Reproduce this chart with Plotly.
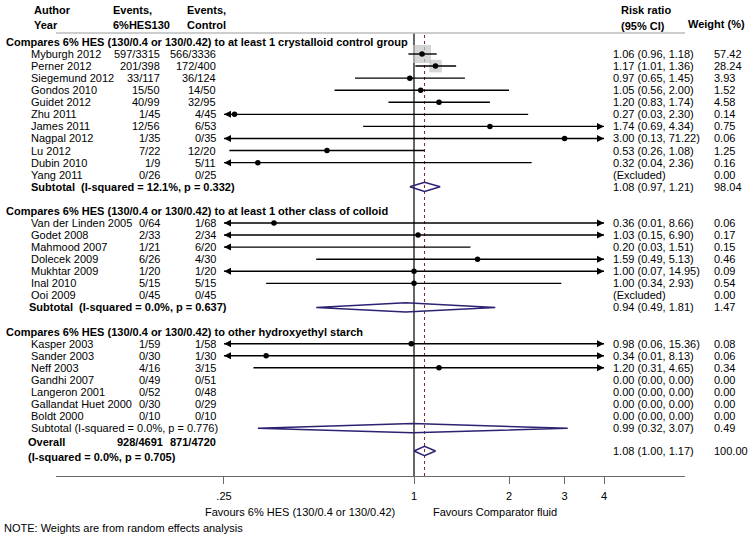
import math
import plotly.graph_objects as go

# ---------------- Data ----------------
group_titles = [
    "Compares 6% HES (130/0.4 or 130/0.42) to at least 1 crystalloid control group",
    "Compares 6% HES (130/0.4 or 130/0.42) to at least 1 other class of colloid",
    "Compares 6% HES (130/0.4 or 130/0.42) to other hydroxyethyl starch",
]

g1_names = ["Myburgh 2012", "Perner 2012", "Siegemund 2012", "Gondos 2010", "Guidet 2012",
            "Zhu 2011", "James 2011", "Nagpal 2012", "Lu 2012", "Dubin 2010", "Yang 2011"]
g1_ev_hes = ["597/3315", "201/398", "33/117", "15/50", "40/99", "1/45", "12/56", "1/35", "7/22", "1/9", "0/26"]
g1_ev_ctl = ["566/3336", "172/400", "36/124", "14/50", "32/95", "4/45", "6/53", "0/35", "12/20", "5/11", "0/25"]
g1_rr = [1.06, 1.17, 0.97, 1.05, 1.20, 0.27, 1.74, 3.00, 0.53, 0.32, None]
g1_lo = [0.96, 1.01, 0.65, 0.56, 0.83, 0.03, 0.69, 0.13, 0.26, 0.04, None]
g1_hi = [1.18, 1.36, 1.45, 2.00, 1.74, 2.30, 4.34, 71.22, 1.08, 2.36, None]
g1_w = [57.42, 28.24, 3.93, 1.52, 4.58, 0.14, 0.75, 0.06, 1.25, 0.16, 0.00]

g2_names = ["Van der Linden 2005", "Godet 2008", "Mahmood 2007", "Dolecek 2009", "Mukhtar 2009", "Inal 2010", "Ooi 2009"]
g2_ev_hes = ["0/64", "2/33", "1/21", "6/26", "1/20", "5/15", "0/45"]
g2_ev_ctl = ["1/68", "2/34", "6/20", "4/30", "1/20", "5/15", "0/45"]
g2_rr = [0.36, 1.03, 0.20, 1.59, 1.00, 1.00, None]
g2_lo = [0.01, 0.15, 0.03, 0.49, 0.07, 0.34, None]
g2_hi = [8.66, 6.90, 1.51, 5.13, 14.95, 2.93, None]
g2_w = [0.06, 0.17, 0.15, 0.46, 0.09, 0.54, 0.00]

g3_names = ["Kasper 2003", "Sander 2003", "Neff 2003", "Gandhi 2007", "Langeron 2001", "Gallandat Huet 2000", "Boldt 2000"]
g3_ev_hes = ["1/59", "0/30", "4/16", "0/49", "0/52", "0/30", "0/10"]
g3_ev_ctl = ["1/58", "1/30", "3/15", "0/51", "0/48", "0/29", "0/10"]
g3_rr = [0.98, 0.34, 1.20, 0.00, 0.00, 0.00, 0.00]
g3_lo = [0.06, 0.01, 0.31, 0.00, 0.00, 0.00, 0.00]
g3_hi = [15.36, 8.13, 4.65, 0.00, 0.00, 0.00, 0.00]
g3_w = [0.08, 0.06, 0.34, 0.00, 0.00, 0.00, 0.00]

sub_labels = ["Subtotal\u00a0 (I-squared = 12.1%, p = 0.332)",
              "Subtotal\u00a0 (I-squared = 0.0%, p = 0.637)",
              "Subtotal (I-squared = 0.0%, p = 0.776)"]
sub_rr = [1.08, 0.94, 0.99]
sub_lo = [0.97, 0.49, 0.32]
sub_hi = [1.21, 1.81, 3.07]
sub_w = [98.04, 1.47, 0.49]

overall_label = "Overall"
overall_het = "(I-squared = 0.0%, p = 0.705)"
overall_ev_hes = "928/4691"
overall_ev_ctl = "871/4720"
overall_rr, overall_lo, overall_hi, overall_w = 1.08, 1.00, 1.17, 100.00

tick_vals = [0.25, 1, 2, 3, 4]
tick_text = [".25", "1", "2", "3", "4"]
clip_lo, clip_hi = 0.25, 4.0

groups = [
    (g1_names, g1_ev_hes, g1_ev_ctl, g1_rr, g1_lo, g1_hi, g1_w),
    (g2_names, g2_ev_hes, g2_ev_ctl, g2_rr, g2_lo, g2_hi, g2_w),
    (g3_names, g3_ev_hes, g3_ev_ctl, g3_rr, g3_lo, g3_hi, g3_w),
]

# ---------------- Layout helpers ----------------
W, H = 754, 537
FONT = "Liberation Sans, Arial, Helvetica, sans-serif"
FS = 11
NAVY = "#2b2272"
ROW0, STEP = 54.0, 12.07

def px(xp):
    return xp / W

annotations = []

def txt(x, y, s, anchor="left", bold=False, yref="y", size=FS):
    annotations.append(dict(
        x=px(x), y=y, xref="paper", yref=yref, text=("<b>%s</b>" % s) if bold else s,
        showarrow=False, xanchor=anchor, yanchor="middle",
        font=dict(family=FONT, size=size, color="#000"), borderpad=0))

def fmt_ci(r, l, h):
    if r is None:
        return "(Excluded)"
    return "%.2f (%.2f, %.2f)" % (r, l, h)

# headers
txt(33, 10, "Author", bold=True)
txt(33, 25, "Year", bold=True)
txt(112, 10, "Events,", bold=True)
txt(112, 25, "6%HES130", bold=True)
txt(186, 10, "Events,", bold=True)
txt(186, 25, "Control", bold=True)
txt(620, 10, "Risk ratio", bold=True)
txt(620, 26, "(95% CI)", bold=True)
txt(687, 24, "Weight (%)", bold=True)

# traces data
line_x, line_y = [], []
la_x, la_y, ra_x, ra_y = [], [], [], []
dot_x, dot_y = [], []
box_x, box_y, box_s = [], [], []
dia_x, dia_y = [], []

def diamond(r, l, h, y):
    dia_x.extend([l, r, h, r, l, None])
    dia_y.extend([y, y - 4.6, y, y + 4.6, y, None])

idx = -1
for gi, (names, eh, ec, rr, lo, hi, w) in enumerate(groups):
    y = ROW0 + STEP * idx
    txt(5, y, group_titles[gi], bold=True)
    idx += 1
    for i in range(len(names)):
        y = ROW0 + STEP * idx
        txt(30, y, names[i])
        txt(161, y, eh[i], anchor="right")
        txt(217, y, ec[i], anchor="right")
        txt(612, y, fmt_ci(rr[i], lo[i], hi[i]))
        txt(713, y, "%.2f" % w[i])
        if rr[i] is not None and rr[i] > 0:
            a = max(lo[i], clip_lo)
            b = min(hi[i], clip_hi)
            line_x.extend([a, b, None])
            line_y.extend([y, y, None])
            if lo[i] < clip_lo:
                la_x.append(clip_lo); la_y.append(y)
            if hi[i] > clip_hi:
                ra_x.append(clip_hi); ra_y.append(y)
            if clip_lo <= rr[i] <= clip_hi:
                dot_x.append(rr[i]); dot_y.append(y)
                box_x.append(rr[i]); box_y.append(y)
                box_s.append(2.375 * math.sqrt(w[i]))
        idx += 1
    y = ROW0 + STEP * idx
    txt(30 if gi != 1 else 28, y, sub_labels[gi], bold=(gi != 2))
    txt(612, y, fmt_ci(sub_rr[gi], sub_lo[gi], sub_hi[gi]))
    txt(713, y, "%.2f" % sub_w[gi])
    diamond(sub_rr[gi], sub_lo[gi], sub_hi[gi], y)
    idx += 2

# overall
txt(27, 442, overall_label, bold=True)
txt(164, 442, overall_ev_hes, anchor="right", bold=True)
txt(217, 442, overall_ev_ctl, anchor="right", bold=True)
txt(27, 457, overall_het, bold=True)
txt(612, 451, fmt_ci(overall_rr, overall_lo, overall_hi))
txt(713, 451, "%.2f" % overall_w)
diamond(overall_rr, overall_lo, overall_hi, 451)

# bottom texts
txt(300, 512, "Favours 6% HES (130/0.4 or 130/0.42)", anchor="center")
txt(495, 512, "Favours Comparator fluid", anchor="center")
txt(3, 528, "NOTE: Weights are from random effects analysis")

fig = go.Figure()

# reference lines
fig.add_trace(go.Scatter(x=[1, 1], y=[33, 476], mode="lines",
                         line=dict(color="#000", width=1.2), hoverinfo="skip"))
fig.add_trace(go.Scatter(x=[overall_rr, overall_rr], y=[35, 476], mode="lines",
                         line=dict(color="#8b1c2c", width=1, dash="3px,3px"), hoverinfo="skip"))

# weight boxes
fig.add_trace(go.Scatter(x=box_x, y=box_y, mode="markers",
                         marker=dict(symbol="square", size=box_s, color="#c4c4c4", line=dict(width=0)),
                         hoverinfo="skip"))
# CI lines
fig.add_trace(go.Scatter(x=line_x, y=line_y, mode="lines",
                         line=dict(color="#000", width=1.4), hoverinfo="skip"))
# arrows
fig.add_trace(go.Scatter(x=la_x, y=la_y, mode="markers",
                         marker=dict(symbol="arrow-left", size=7, color="#000", line=dict(width=0)),
                         hoverinfo="skip"))
fig.add_trace(go.Scatter(x=ra_x, y=ra_y, mode="markers",
                         marker=dict(symbol="arrow-right", size=7, color="#000", line=dict(width=0)),
                         hoverinfo="skip"))
# point estimates
fig.add_trace(go.Scatter(x=dot_x, y=dot_y, mode="markers",
                         marker=dict(symbol="circle", size=5.5, color="#000"), hoverinfo="skip"))
# diamonds
fig.add_trace(go.Scatter(x=dia_x, y=dia_y, mode="lines",
                         line=dict(color=NAVY, width=1.5), hoverinfo="skip"))

x_left = 10 ** (math.log10(1) - (414 - 56) / 315.6)
x_right = 10 ** (math.log10(1) + (685 - 414) / 315.6)

fig.update_layout(
    width=W, height=H,
    margin=dict(l=0, r=0, t=0, b=0),
    paper_bgcolor="white", plot_bgcolor="white",
    showlegend=False,
    font=dict(family=FONT, size=FS, color="#000"),
    annotations=annotations,
    shapes=[dict(type="line", xref="x domain", yref="y", x0=0, x1=1, y0=33, y1=33,
                 line=dict(color="#bdbdbd", width=1.5))],
    xaxis=dict(type="log", range=[math.log10(x_left), math.log10(x_right)],
               domain=[56 / W, 685 / W], anchor="free", position=(H - 476) / H,
               showline=True, linecolor="#6a6a6a", linewidth=1.2,
               ticks="outside", ticklen=7, tickcolor="#6a6a6a", tickwidth=1.2,
               tickvals=tick_vals, ticktext=tick_text, showgrid=False, zeroline=False,
               tickfont=dict(family=FONT, size=FS, color="#000"), ticklabelstandoff=3),
    yaxis=dict(range=[H, 0], domain=[0, 1], visible=False, showgrid=False, zeroline=False),
)

fig.write_html("out.html", config={"displayModeBar": False},
               post_script="document.body.style.margin='0';document.body.style.overflow='hidden';")
